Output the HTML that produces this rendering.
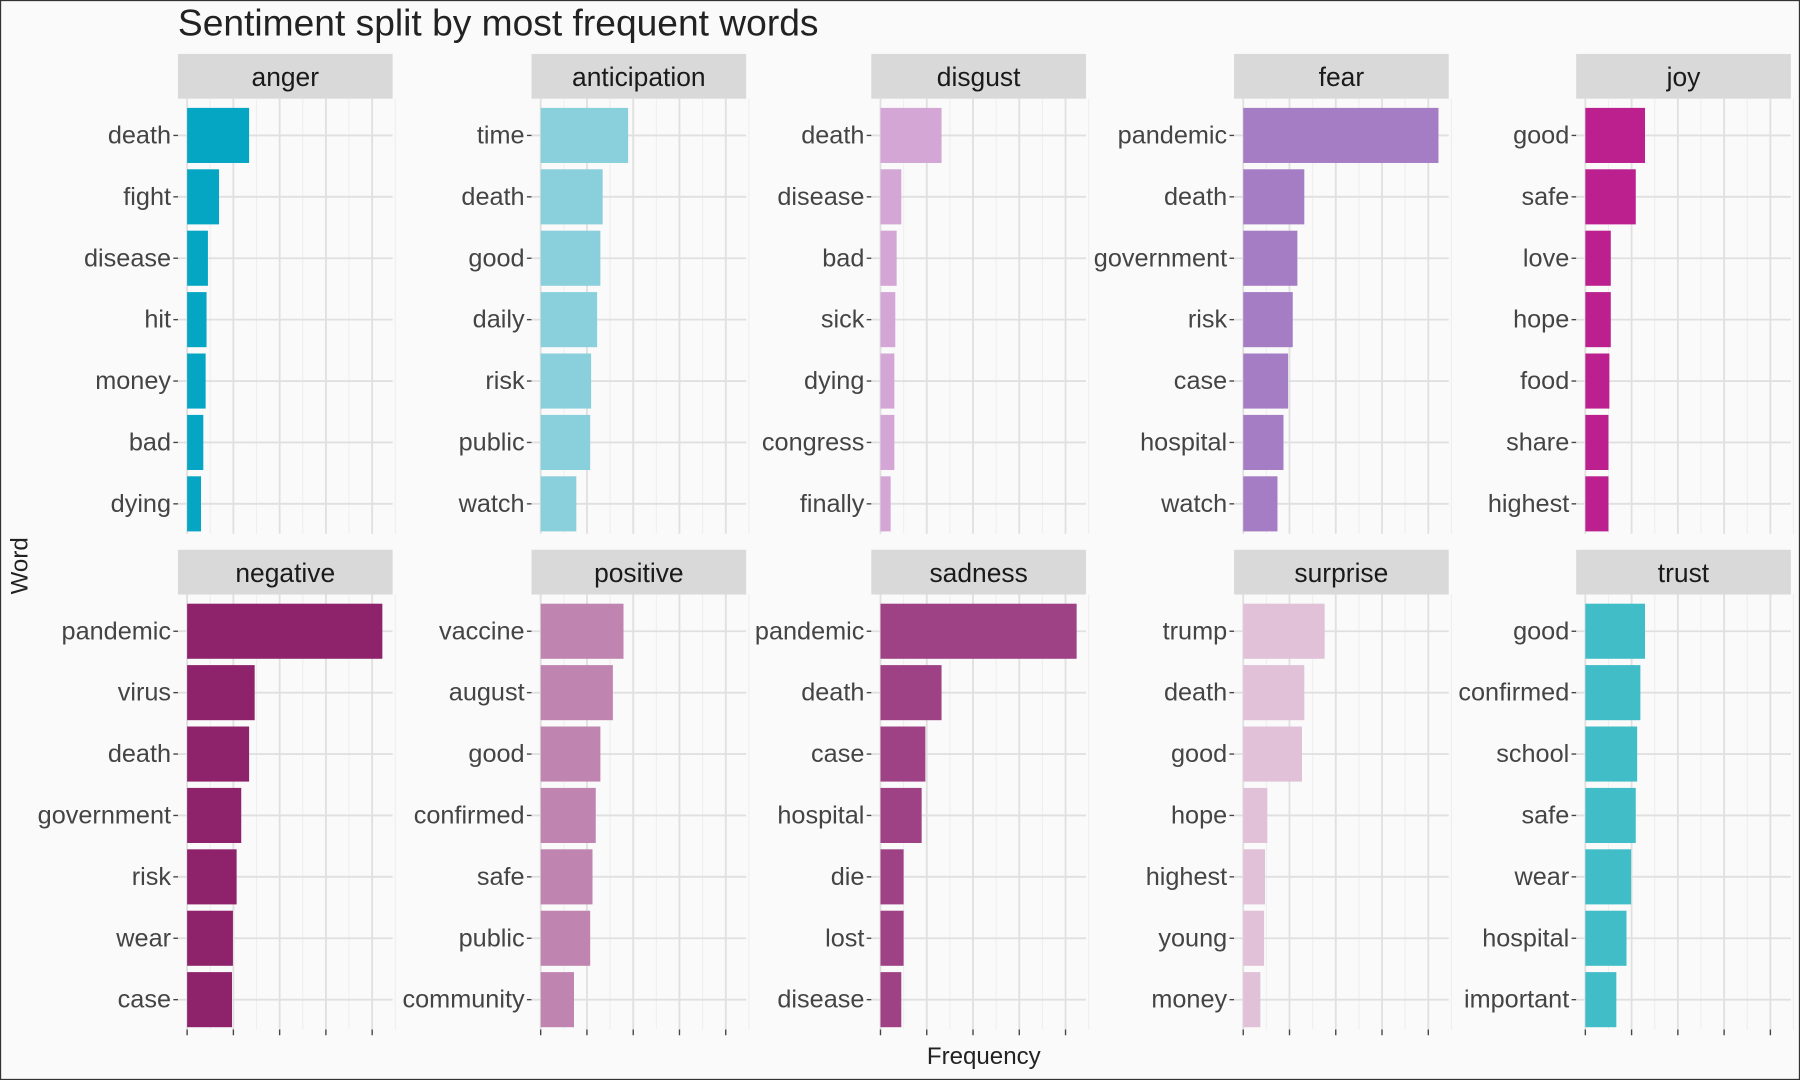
<!DOCTYPE html>
<html><head><meta charset="utf-8"><style>
html,body{margin:0;padding:0;background:#fafafa;}
svg{display:block;font-family:"Liberation Sans",sans-serif;}
</style></head><body>
<svg width="1800" height="1080" viewBox="0 0 1568 941" preserveAspectRatio="none" xmlns="http://www.w3.org/2000/svg">
<rect x="0.5" y="0.5" width="1567" height="940" fill="#fafafa" stroke="#333" stroke-width="1"/>
<text x="155" y="31" font-size="32.4" fill="#222">Sentiment split by most frequent words</text>
<text transform="translate(24,493) rotate(-90)" text-anchor="middle" font-size="21" fill="#222">Word</text>
<text x="857" y="927" text-anchor="middle" font-size="21" fill="#222">Frequency</text>
<g id="panels"></g>
</svg>
<script>
const sentiments = ["anger","anticipation","disgust","fear","joy","negative","positive","sadness","surprise","trust"];
const colors = ["#05a6c4","#89d0dc","#d3a6d6","#a57dc4","#bc1f8e","#8e236b","#c084b0","#9e4285","#e0c1d8","#41bdc8"];
const words = [
 ["death","fight","disease","hit","money","bad","dying"],
 ["time","death","good","daily","risk","public","watch"],
 ["death","disease","bad","sick","dying","congress","finally"],
 ["pandemic","death","government","risk","case","hospital","watch"],
 ["good","safe","love","hope","food","share","highest"],
 ["pandemic","virus","death","government","risk","wear","case"],
 ["vaccine","august","good","confirmed","safe","public","community"],
 ["pandemic","death","case","hospital","die","lost","disease"],
 ["trump","death","good","hope","highest","young","money"],
 ["good","confirmed","school","safe","wear","hospital","important"]
];
const values = [
 [1.34,0.69,0.45,0.42,0.40,0.35,0.30],
 [1.89,1.34,1.29,1.22,1.09,1.07,0.77],
 [1.32,0.45,0.35,0.32,0.30,0.30,0.22],
 [4.22,1.32,1.17,1.07,0.97,0.87,0.74],
 [1.29,1.09,0.55,0.55,0.52,0.50,0.50],
 [4.22,1.46,1.34,1.17,1.07,0.99,0.97],
 [1.79,1.56,1.29,1.19,1.12,1.07,0.72],
 [4.24,1.32,0.97,0.89,0.50,0.50,0.45],
 [1.76,1.32,1.27,0.52,0.47,0.45,0.37],
 [1.29,1.19,1.12,1.09,0.99,0.89,0.67]
];
const xTicks = [0,1,2,3,4];
const NS="http://www.w3.org/2000/svg";
const root=document.getElementById("panels");
const panelLefts=[155,463,759,1075,1373];
const PW=187, UNIT=40.3;
function mk(tag,attrs,parent){const e=document.createElementNS(NS,tag);for(const k in attrs)e.setAttribute(k,attrs[k]);parent.appendChild(e);return e;}
sentiments.forEach((s,i)=>{
  const col=i%5,row=Math.floor(i/5);
  const L=panelLefts[col];
  const stripTop=row===0?47:479;
  const plotTop=stripTop+39, plotH=379;
  const xs=v=>L+8+v*UNIT;
  const ys=j=>plotTop+32+j*53.5;
  const g=mk("g",{},root);
  
  
  const strip=mk("rect",{x:L,y:stripTop,width:PW,height:39,fill:"#d9d9d9"},g);
  
  
  const st=mk("text",{x:L+PW/2,y:stripTop+28,"text-anchor":"middle","font-size":"23",fill:"#1a1a1a"},g);
  st.textContent=s;
  
  
  xTicks.forEach(t=>{
    mk("line",{x1:xs(t+0.5),x2:xs(t+0.5),y1:plotTop,y2:plotTop+plotH,stroke:"#efefef","stroke-width":1},g);
  });
  xTicks.forEach(t=>{
    const gl=mk("line",{x1:xs(t),x2:xs(t),y1:plotTop,y2:plotTop+plotH,stroke:"#e0e0e0","stroke-width":1.6},g);
    
    
    if(row===1){mk("line",{x1:xs(t),x2:xs(t),y1:plotTop+plotH,y2:plotTop+plotH+5,stroke:"#444","stroke-width":1.2},g);}
  });
  words[i].forEach((w,j)=>{
    mk("line",{x1:L,x2:L+PW,y1:ys(j),y2:ys(j),stroke:"#e0e0e0","stroke-width":1.6},g);
  });
  words[i].forEach((w,j)=>{
    const b=mk("rect",{x:xs(0),y:ys(j)-24,width:Math.max(0,xs(values[i][j])-xs(0)),height:48,fill:colors[i]},g);
    
    
    mk("line",{x1:L-4,x2:L,y1:ys(j),y2:ys(j),stroke:"#444","stroke-width":1.2},g);
    const t=mk("text",{x:L-6,y:ys(j)+7,"text-anchor":"end","font-size":"22",fill:"#444"},g);
    t.textContent=w;
    
    
  });
});
</script>
</body></html>
